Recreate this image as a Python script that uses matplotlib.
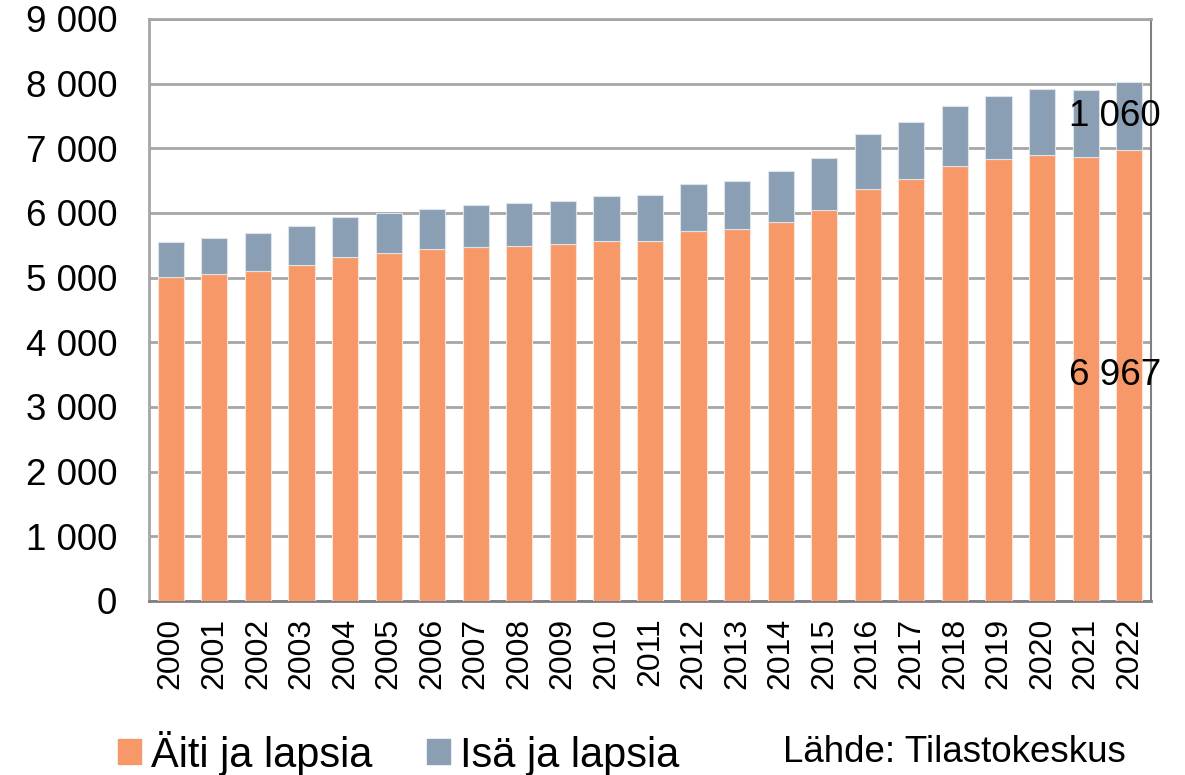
import matplotlib
matplotlib.use("Agg")
import matplotlib.pyplot as plt
from matplotlib.patches import Patch

plt.rcParams['font.family'] = ['Liberation Sans', 'DejaVu Sans']

years = [str(y) for y in range(2000, 2023)]
aiti = [5003, 5049, 5100, 5189, 5321, 5389, 5440, 5467, 5482, 5513, 5564, 5564,
        5723, 5760, 5858, 6043, 6373, 6527, 6728, 6836, 6893, 6862, 6967]
isa = [550, 562, 588, 612, 619, 613, 619, 664, 674, 680, 696, 722,
       727, 736, 799, 804, 845, 887, 923, 974, 1020, 1047, 1060]
yticks = [0, 1000, 2000, 3000, 4000, 5000, 6000, 7000, 8000, 9000]
ytick_labels = ["0", "1 000", "2 000", "3 000", "4 000", "5 000", "6 000",
                "7 000", "8 000", "9 000"]

c_aiti = "#F79868"
c_isa = "#8A9FB3"

fig = plt.figure(figsize=(11.85, 7.75), dpi=100)
ax = fig.add_axes([149 / 1185, 1 - 601 / 775, (1151 - 149) / 1185, (601 - 19) / 775])

x = list(range(len(years)))
ax.bar(x, aiti, width=0.6, color=c_aiti, edgecolor="#FCE3D6", linewidth=0.8, zorder=3)
ax.bar(x, isa, width=0.6, bottom=aiti, color=c_isa, edgecolor="#DCE3EA",
       linewidth=0.8, zorder=3)

ax.set_xlim(-0.5, len(years) - 0.5)
ax.set_ylim(0, 9000)
ax.set_yticks(yticks)
ax.set_yticklabels(ytick_labels, fontsize=26.5)
ax.set_xticks(x)
ax.set_xticklabels(years, rotation=90, fontsize=23)
ax.tick_params(axis='both', length=0)
ax.tick_params(axis='y', pad=23)
ax.tick_params(axis='x', pad=12)

ax.grid(axis='y', color="#A6A6A6", linewidth=2, zorder=0)
for side in ['left', 'top']:
    ax.spines[side].set_color("#A6A6A6")
    ax.spines[side].set_linewidth(2)
ax.spines['right'].set_color("#808080")
ax.spines['right'].set_linewidth(1.5)
ax.spines['bottom'].set_color("#808080")
ax.spines['bottom'].set_linewidth(2)

# value labels for the latest year
last = len(years) - 1
ax.text(last - 0.33, isa[last] / 2 + aiti[last], f"{isa[last]:,}".replace(",", " "),
        ha='center', va='center', fontsize=26.5, zorder=5, clip_on=False)
ax.text(last - 0.33, aiti[last] / 2, f"{aiti[last]:,}".replace(",", " "),
        ha='center', va='center', fontsize=26.5, zorder=5, clip_on=False)

handles = [Patch(color=c_aiti, label="Äiti ja lapsia"),
           Patch(color=c_isa, label="Isä ja lapsia")]
fig.legend(handles=handles, loc='center left', bbox_to_anchor=(118 / 1185, 1 - 753 / 775),
           ncol=2, frameon=False, fontsize=30, handlelength=0.55, handleheight=0.55,
           handletextpad=0.25, columnspacing=1.3, borderaxespad=0, borderpad=0)
fig.text(783 / 1185, 1 - 753 / 775, "Lähde: Tilastokeskus", fontsize=26.5,
         ha='left', va='center')

fig.savefig("out.png", dpi=100)
